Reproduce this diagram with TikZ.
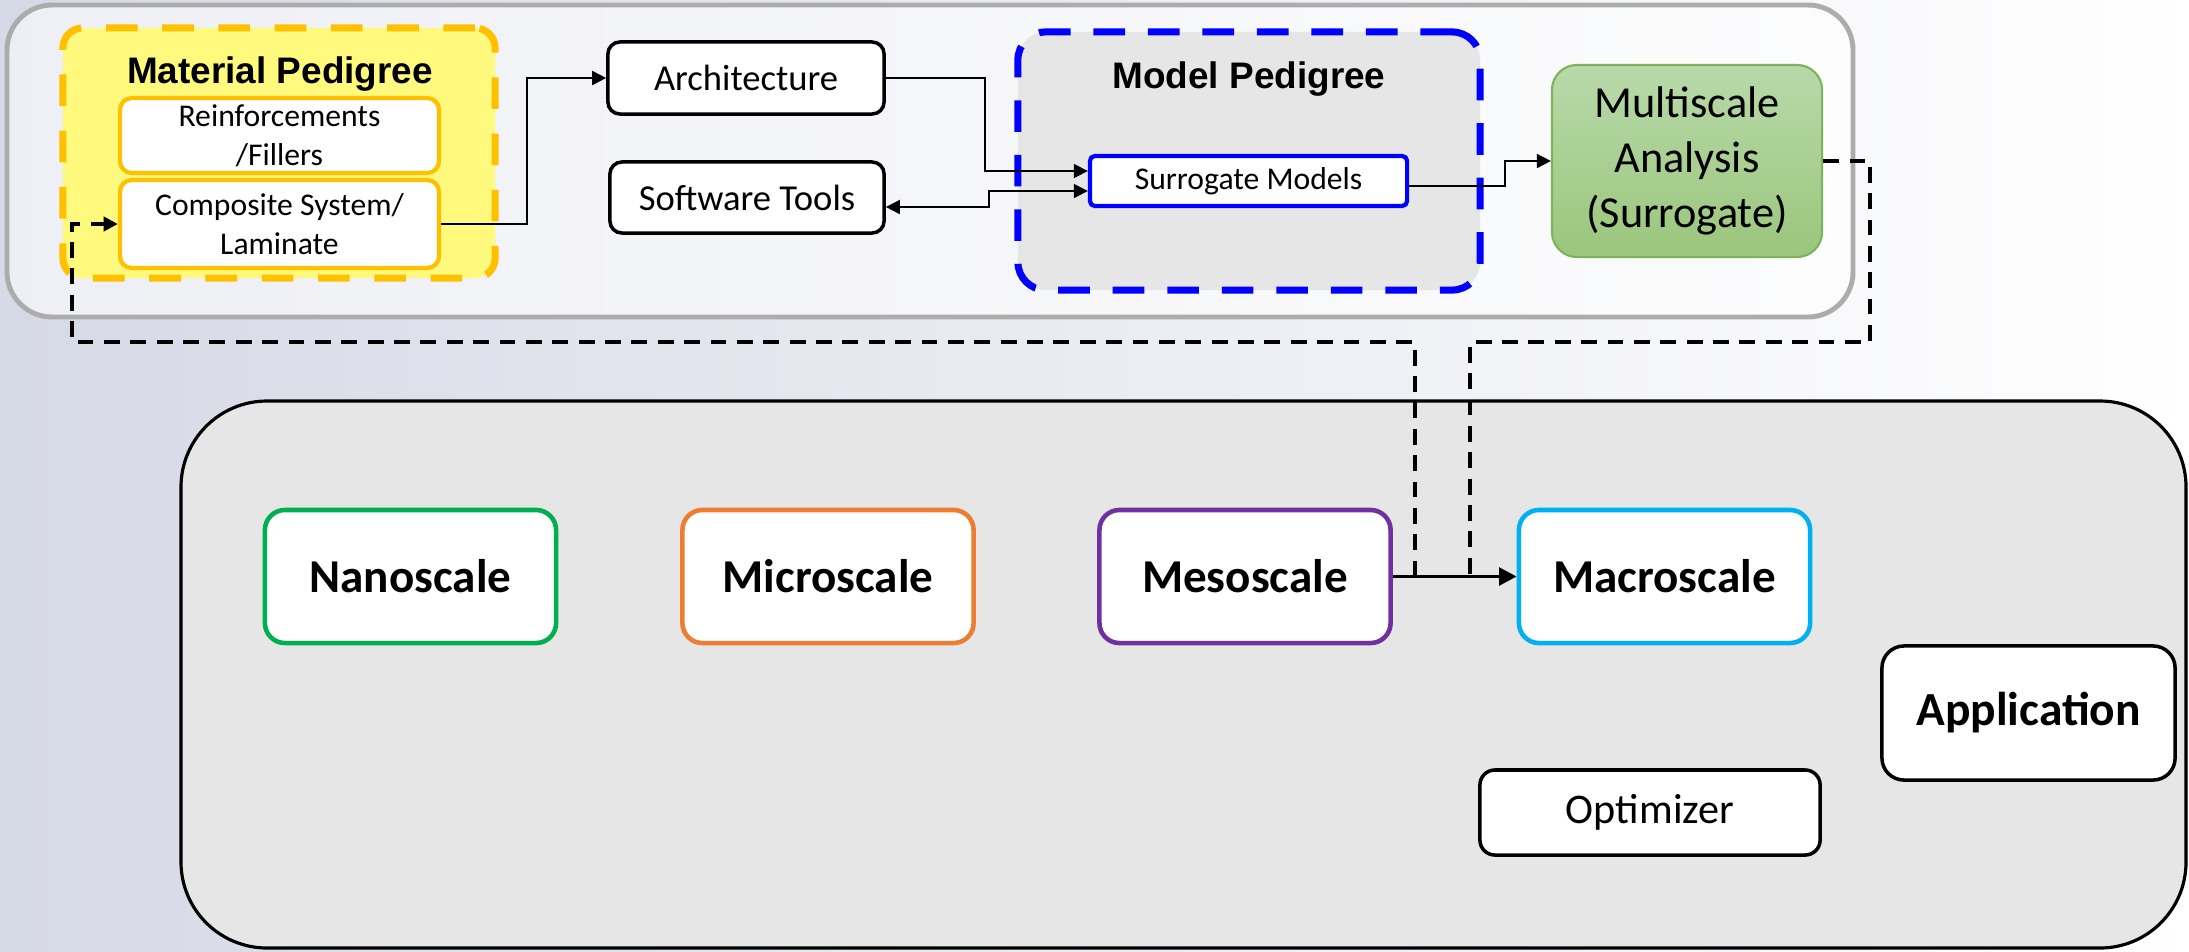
\documentclass[tikz,border=0pt]{standalone}
\usepackage{fontspec}
\setmainfont{Carlito}
\newfontfamily\arialfont{Liberation Sans}
\usetikzlibrary{arrows.meta}

\definecolor{bgleft}{HTML}{D6D9E6}
\definecolor{panelgray}{HTML}{E6E6E6}
\definecolor{pedyellow}{HTML}{FFF97D}
\definecolor{pedorange}{HTML}{FFC000}
\definecolor{pedblue}{HTML}{0000FF}
\definecolor{multitop}{HTML}{B8D9AA}
\definecolor{multibot}{HTML}{9BC67C}
\definecolor{multiedge}{HTML}{7DB35A}
\definecolor{nanogreen}{HTML}{00B050}
\definecolor{microorange}{HTML}{ED7D31}
\definecolor{mesopurple}{HTML}{7030A0}
\definecolor{macroblue}{HTML}{00B0F0}

\tikzset{
  pedtitle/.style={font=\arialfont\bfseries\fontsize{10.5}{12}\selectfont, inner sep=0pt, anchor=base},
  matbox/.style={draw=pedorange, fill=pedyellow, line width=2pt, dash pattern=on 9pt off 7pt, rounded corners=0.2cm},
  modbox/.style={draw=pedblue, fill=panelgray, line width=2pt, dash pattern=on 9pt off 6.5pt, rounded corners=0.28cm},
  subbox/.style={draw=pedorange, line width=1.2pt, fill=white, rounded corners=0.12cm, align=center, inner sep=0pt, font=\fontsize{9}{11}\selectfont},
  plainbox/.style={draw, line width=1pt, fill=white, rounded corners=0.12cm, inner sep=0pt, font=\fontsize{10.4}{12.5}\selectfont},
  scalebox/.style={fill=white, line width=1.3pt, rounded corners=0.2cm, minimum width=2.91cm, minimum height=1.33cm, inner sep=0pt, font=\bfseries\fontsize{13.4}{16}\selectfont},
  conn/.style={->, line width=0.5pt},
  fb/.style={line width=1.1pt, dash pattern=on 4.5pt off 3pt}
}

\begin{document}
\begin{tikzpicture}[x=0.01cm, y=-0.01cm, >={Triangle[length=4pt,width=4pt]}]
\useasboundingbox (0,0) rectangle (2189,951);
\fill[left color=bgleft, right color=white] (0,0) rectangle (2189,951);

% frames
\draw[gray!65, line width=1.4pt, fill=white, fill opacity=0.6, rounded corners=0.45cm] (7,5) rectangle (1853,317);
\draw[line width=0.9pt, fill=panelgray, rounded corners=0.86cm] (181,401) rectangle (2186,948);

% material pedigree
\node[matbox, minimum width=4.32cm, minimum height=2.5cm] (matped) at (279,153) {};
\node[pedtitle] (matttl) at (280,83) {Material Pedigree};
\node[subbox, minimum width=3.19cm, minimum height=0.75cm] (reinf) at (279.5,135.5) {Reinforcements\\/Fillers};
\node[subbox, minimum width=3.19cm, minimum height=0.88cm] (comp) at (279.5,224) {Composite System/\\Laminate};

\node[plainbox, minimum width=2.76cm, minimum height=0.72cm] (arch) at (746,78) {Architecture};
\node[plainbox, minimum width=2.74cm, minimum height=0.71cm] (soft) at (747,197.5) {Software Tools};

% model pedigree
\node[modbox, minimum width=4.62cm, minimum height=2.58cm] (modped) at (1249,161) {};
\node[pedtitle] (modttl) at (1249,88) {Model Pedigree};
\node[draw=pedblue, line width=1.2pt, fill=white, rounded corners=0.05cm, minimum width=3.17cm, minimum height=0.5cm, inner sep=0pt, font=\fontsize{9}{11}\selectfont] (surr) at (1248.5,181) {Surrogate Models};

\node[draw=multiedge, line width=0.6pt, top color=multitop, bottom color=multibot, rounded corners=0.25cm, minimum width=2.7cm, minimum height=1.92cm, align=center, inner sep=0pt, font=\fontsize{12.6}{15.6}\selectfont] (multi) at (1687,161) {Multiscale\\Analysis\\(Surrogate)};

% scales
\node[scalebox, draw=nanogreen] (nano) at (410.5,576.5) {Nanoscale};
\node[scalebox, draw=microorange] (micro) at (828,576.5) {Microscale};
\node[scalebox, draw=mesopurple] (meso) at (1245,576.5) {Mesoscale};
\node[scalebox, draw=macroblue] (macro) at (1664.5,576.5) {Macroscale};

\node[plainbox, rounded corners=0.22cm, minimum width=2.93cm, minimum height=1.34cm, font=\bfseries\fontsize{13.5}{16}\selectfont] (app) at (2028.5,713) {Application};
\node[plainbox, rounded corners=0.15cm, minimum width=3.4cm, minimum height=0.85cm, font=\fontsize{12}{14}\selectfont] (opt) at (1650,812.5) {Optimizer};

% connectors
\draw[conn] (comp.east) -- ++(86,0) |- (arch.west);
\draw[conn] (arch.east) -- ++(99,0) |- ([yshift=1mm]surr.west);
\draw[<->, line width=0.5pt] ([yshift=-0.95mm]soft.east) -- ++(103,0) |- ([yshift=-1mm]surr.west);
\draw[conn] ([yshift=-0.5mm]surr.east) -- ++(96,0) |- (multi.west);
\draw[->, line width=1.1pt, >={Triangle[length=5pt,width=5pt]}] (meso) -- (macro);

% feedback loop
\coordinate (dropA) at (1470,342);
\coordinate (dropB) at (1415,342);
\coordinate (loopL) at (72,342);
\draw[fb] (multi.east) -- ++(47,0) |- (dropA) -- (dropA |- meso.east);
\draw[fb, ->] (dropB |- meso.east) -- (dropB) -- (loopL) |- (comp.west);
\end{tikzpicture}
\end{document}
